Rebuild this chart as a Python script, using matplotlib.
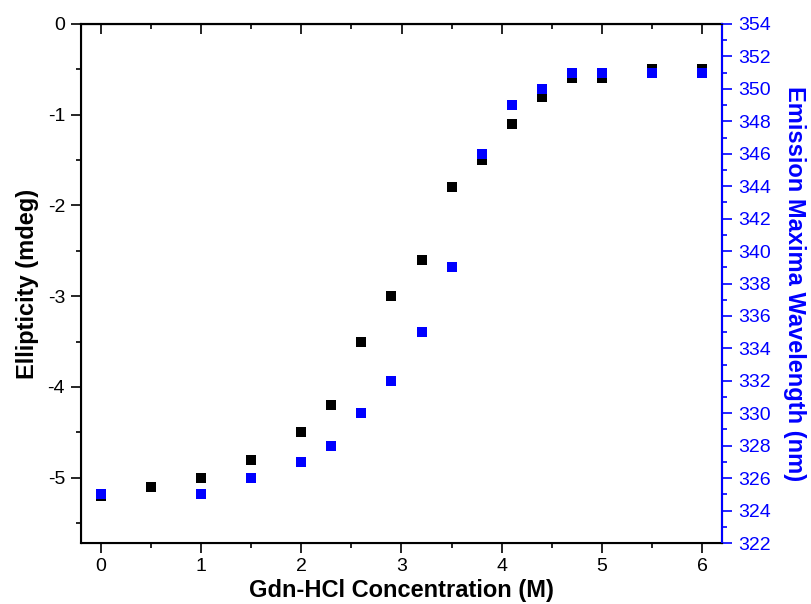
import matplotlib
matplotlib.use("Agg")
import matplotlib.pyplot as plt
from matplotlib.ticker import MultipleLocator

plt.rcParams['font.family'] = ['Liberation Sans', 'DejaVu Sans']
plt.rcParams['axes.unicode_minus'] = False

# Gdn-HCl concentration (M)
conc_cd = [0, 0.5, 1, 1.5, 2, 2.3, 2.6, 2.9, 3.2, 3.5, 3.8, 4.1, 4.4, 4.7, 5, 5.5, 6]
ellipticity = [-5.2, -5.1, -5.0, -4.8, -4.5, -4.2, -3.5, -3.0, -2.6, -1.8, -1.5,
               -1.1, -0.8, -0.6, -0.6, -0.5, -0.5]

conc_fl = [0, 1, 1.5, 2, 2.3, 2.6, 2.9, 3.2, 3.5, 3.8, 4.1, 4.4, 4.7, 5, 5.5, 6]
emission_max = [325, 325, 326, 327, 328, 330, 332, 335, 339, 346, 349, 350, 351,
                351, 351, 351]

blue = '#0000ff'

fig = plt.figure(figsize=(8.12, 6.04), dpi=100)
ax = fig.add_axes([81 / 812, 1 - 543 / 604, (722 - 81) / 812, (543 - 24) / 604])

ax.plot(conc_cd, ellipticity, 's', color='black', ms=7.8, mew=0, zorder=3)
ax.set_xlim(-0.2, 6.2)
ax.set_ylim(-5.72, 0)
ax.xaxis.set_major_locator(MultipleLocator(1))
ax.xaxis.set_minor_locator(MultipleLocator(0.5))
ax.yaxis.set_major_locator(MultipleLocator(1))
ax.yaxis.set_minor_locator(MultipleLocator(0.5))
ax.tick_params(which='both', direction='out', width=1.2, labelsize=14)
ax.tick_params(which='major', length=7)
ax.tick_params(which='minor', length=3.6)
ax.tick_params(axis='y', pad=4.5)
for s in ax.spines.values():
    s.set_linewidth(1.5)
ax.set_xlabel('Gdn-HCl Concentration (M)', fontsize=17, fontweight='bold', labelpad=3)
ax.set_ylabel('Ellipticity (mdeg)', fontsize=17, fontweight='bold', labelpad=6)

# top ticks pointing inward
top = ax.secondary_xaxis('top')
top.xaxis.set_major_locator(MultipleLocator(1))
top.xaxis.set_minor_locator(MultipleLocator(0.5))
top.tick_params(which='both', direction='in', width=1.2, labeltop=False)
top.tick_params(which='major', length=7)
top.tick_params(which='minor', length=3.6)
top.spines['top'].set_linewidth(1.5)

ax2 = ax.twinx()
ax2.plot(conc_fl, emission_max, 's', color=blue, ms=7.8, mew=0, zorder=4)
ax2.set_ylim(322, 354)
ax2.yaxis.set_major_locator(MultipleLocator(2))
ax2.yaxis.set_minor_locator(MultipleLocator(1))
ax2.tick_params(which='both', direction='out', width=1.2, colors=blue, labelsize=14, pad=5)
ax2.tick_params(which='major', length=7)
ax2.tick_params(which='minor', length=3.6)
ax2.spines['right'].set_color(blue)
ax2.spines['right'].set_linewidth(1.5)
ax2.set_ylabel('Emission Maxima Wavelength (nm)', fontsize=17, fontweight='bold',
               color=blue, rotation=270, labelpad=25)

fig.savefig('out.png', dpi=100)
